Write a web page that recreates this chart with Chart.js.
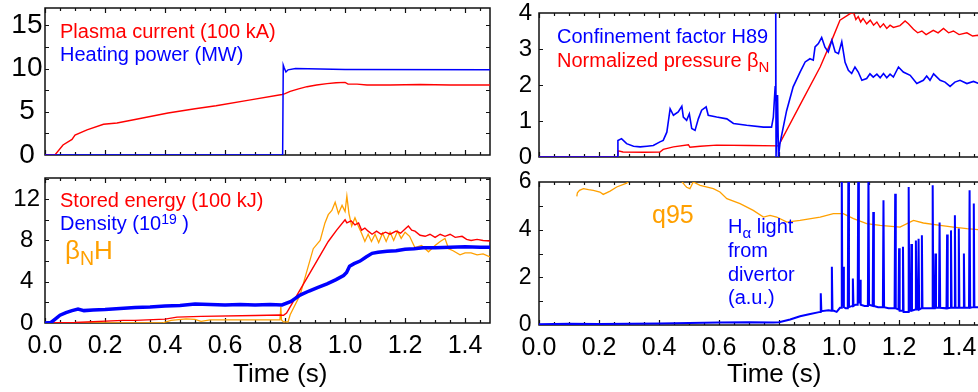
<!DOCTYPE html>
<html>
<head>
<meta charset="utf-8">
<script src="https://cdn.jsdelivr.net/npm/chart.js@4.4.1/dist/chart.umd.min.js"></script>
<style>
  html, body { margin: 0; padding: 0; background: #fff; width: 978px; height: 392px; overflow: hidden; }
  body { position: relative; font-family: "Liberation Sans", Arial, Helvetica, sans-serif; }
  canvas { position: absolute; }
  .note { position: absolute; white-space: nowrap; font-size: 20px; line-height: 20px; }
  .big { font-size: 26px; line-height: 26px; }
  .sub { font-size: 0.75em; position: relative; top: 0.3em; }
  .sup { font-size: 0.7em; position: relative; top: -0.45em; }
  .axis-title { position: absolute; white-space: nowrap; font-size: 26px; line-height: 26px; color: #000; }
</style>
</head>
<body>
<canvas id="tl" width="500" height="165" style="left:0;top:0"></canvas>
<canvas id="bl" width="500" height="227" style="left:0;top:165px"></canvas>
<canvas id="tr" width="505" height="165" style="left:495px;top:0"></canvas>
<canvas id="br" width="505" height="227" style="left:495px;top:165px"></canvas>

<div class="note" style="left:60px;top:21px;color:#f00">Plasma current (100 kA)</div>
<div class="note" style="left:60px;top:44px;color:#00f">Heating power (MW)</div>
<div class="note" style="left:60px;top:190px;color:#f00">Stored energy (100 kJ)</div>
<div class="note" style="left:60px;top:213px;color:#00f">Density (10<span class="sup">19</span> )</div>
<div class="note big" style="left:65px;top:237px;color:#ffa000">β<span class="sub">N</span>H</div>
<div class="note" style="left:557px;top:26px;color:#00f">Confinement factor H89</div>
<div class="note" style="left:557px;top:50px;color:#f00">Normalized pressure β<span class="sub">N</span></div>
<div class="note" style="left:652px;top:202px;color:#ffa000;font-size:25px;line-height:25px">q95</div>
<div class="note" style="left:728px;top:215px;color:#00f;line-height:23.3px">H<span class="sub">α</span> light<br>from<br>divertor<br>(a.u.)</div>
<div class="axis-title" style="left:233px;top:360px">Time (s)</div>
<div class="axis-title" style="left:727px;top:360px">Time (s)</div>

<script>
// x axis (s)
const xTicks = [0, 0.2, 0.4, 0.6, 0.8, 1.0, 1.2, 1.4];

// top left: plasma current (100 kA), heating power (MW)
const ipTime = [0, 0.033, 0.06, 0.09, 0.10, 0.14, 0.195, 0.24, 0.30, 0.41, 0.50, 0.57, 0.68, 0.79, 0.80, 0.817, 0.845, 0.873, 0.905, 0.94, 0.97, 1.0, 1.01, 1.04, 1.073, 1.15, 1.25, 1.35, 1.483];
const ipValue = [0, 0, 1.16, 1.8, 2.3, 2.9, 3.55, 3.7, 4.1, 4.85, 5.35, 5.7, 6.35, 7.0, 7.1, 7.35, 7.65, 7.9, 8.1, 8.25, 8.35, 8.4, 8.2, 8.2, 8.1, 8.1, 8.15, 8.1, 8.1];
const powTime = [0, 0.792, 0.794, 0.797, 0.803, 0.81, 0.835, 1.0, 1.483];
const powValue = [0, 0, 10.4, 10.1, 9.6, 9.85, 10.0, 9.9, 9.85];

// bottom left: stored energy (100 kJ), density (1e19), betaN*H
const weTime = [0, 0.1, 0.26, 0.30, 0.40, 0.44, 0.52, 0.70, 0.785, 0.795, 0.805, 0.85, 0.90, 0.944, 0.972, 1.0, 1.006, 1.02, 1.033, 1.045, 1.055, 1.066, 1.077, 1.09, 1.105, 1.12, 1.135, 1.15, 1.17, 1.185, 1.2, 1.211, 1.222, 1.233, 1.25, 1.267, 1.283, 1.3, 1.317, 1.333, 1.35, 1.367, 1.39, 1.405, 1.42, 1.44, 1.46, 1.483];
const weValue = [0, 0.05, 0.25, 0.25, 0.38, 0.57, 0.64, 0.72, 0.77, 0.74, 0.97, 3.2, 5.7, 7.9, 9.0, 10.0, 9.7, 9.9, 9.5, 9.7, 9.0, 9.2, 8.9, 8.6, 8.9, 8.6, 8.8, 8.6, 8.9, 8.7, 9.1, 9.4, 9.0, 8.9, 8.5, 8.4, 8.6, 8.3, 8.6, 8.4, 8.6, 8.3, 8.4, 8.1, 8.0, 8.1, 8.0, 7.95];
const denTime = [0, 0.02, 0.035, 0.05, 0.07, 0.09, 0.11, 0.13, 0.16, 0.2, 0.25, 0.3, 0.35, 0.4, 0.45, 0.5, 0.55, 0.6, 0.65, 0.7, 0.75, 0.79, 0.82, 0.85, 0.88, 0.91, 0.94, 0.97, 0.995, 1.005, 1.015, 1.03, 1.05, 1.07, 1.09, 1.11, 1.14, 1.17, 1.2, 1.23, 1.26, 1.3, 1.35, 1.4, 1.45, 1.483];
const denValue = [0, 0.05, 0.4, 0.75, 1.0, 1.2, 1.35, 1.2, 1.25, 1.3, 1.4, 1.5, 1.55, 1.65, 1.7, 1.85, 1.8, 1.75, 1.8, 1.75, 1.8, 1.75, 2.1, 2.7, 3.1, 3.45, 3.8, 4.2, 4.6, 4.9, 5.5, 5.75, 6.0, 6.4, 6.75, 6.85, 6.95, 7.0, 7.15, 7.2, 7.3, 7.3, 7.35, 7.4, 7.35, 7.35];
const bnhTime = [0, 0.39, 0.42, 0.47, 0.50, 0.52, 0.55, 0.60, 0.70, 0.783, 0.786, 0.788, 0.795, 0.81, 0.817, 0.85, 0.894, 0.917, 0.933, 0.944, 0.956, 0.967, 0.978, 0.99, 1.0, 1.006, 1.013, 1.022, 1.033, 1.044, 1.055, 1.066, 1.077, 1.088, 1.1, 1.112, 1.125, 1.137, 1.15, 1.162, 1.175, 1.187, 1.2, 1.215, 1.233, 1.255, 1.278, 1.3, 1.317, 1.333, 1.345, 1.36, 1.383, 1.4, 1.42, 1.44, 1.46, 1.483];
const bnhValue = [0, 0, 0.25, 0.4, 0.35, 0.15, 0.3, 0.3, 0.3, 0.3, 1.6, 0.3, 0.1, 0.1, 0.8, 2.7, 7.2, 8.0, 9.7, 10.5, 10.9, 11.7, 10.6, 11.4, 10.8, 12.3, 10.6, 9.4, 10.2, 9.4, 8.7, 7.9, 8.6, 7.9, 8.6, 7.8, 8.7, 7.9, 8.8, 8.0, 8.9, 8.2, 8.8, 8.4, 7.3, 7.5, 6.9, 7.5, 7.9, 8.2, 7.2, 7.0, 6.6, 6.8, 6.8, 6.6, 6.7, 6.4];

// top right: confinement factor H89, normalized pressure betaN
const h89Time = [0, 0.261, 0.263, 0.275, 0.292, 0.315, 0.337, 0.36, 0.381, 0.403, 0.414, 0.426, 0.437, 0.448, 0.464, 0.476, 0.481, 0.492, 0.501, 0.509, 0.52, 0.531, 0.542, 0.557, 0.564, 0.592, 0.626, 0.648, 0.692, 0.748, 0.775, 0.781, 0.787, 0.789, 0.79, 0.792, 0.795, 0.798, 0.803, 0.825, 0.847, 0.87, 0.887, 0.903, 0.914, 0.92, 0.931, 0.942, 0.953, 0.964, 0.976, 0.987, 0.998, 1.009, 1.02, 1.031, 1.042, 1.053, 1.064, 1.076, 1.092, 1.103, 1.114, 1.126, 1.137, 1.148, 1.159, 1.17, 1.181, 1.198, 1.214, 1.237, 1.259, 1.281, 1.292, 1.303, 1.315, 1.337, 1.353, 1.37, 1.386, 1.403, 1.426, 1.448, 1.465, 1.483];
const h89Value = [0, 0, 0.46, 0.51, 0.37, 0.3, 0.28, 0.3, 0.32, 0.42, 0.46, 0.69, 1.34, 1.16, 1.25, 1.41, 1.11, 1.02, 1.2, 0.79, 0.74, 1.06, 1.3, 1.39, 1.16, 1.11, 1.06, 0.93, 0.88, 0.83, 0.83, 1.11, 1.95, 4.2, 0, 0, 1.72, 0, 0.37, 1.28, 1.95, 2.36, 2.64, 2.73, 2.69, 3.06, 3.15, 3.32, 3.05, 2.92, 3.24, 2.92, 2.87, 3.2, 2.63, 2.41, 2.32, 2.5, 2.36, 2.13, 2.18, 2.31, 2.22, 2.3, 2.2, 2.32, 2.2, 2.3, 2.22, 2.5, 2.36, 2.27, 2.04, 2.13, 2.25, 2.13, 2.31, 2.13, 2.08, 1.96, 2.08, 2.13, 2.04, 2.1, 2.04, 2.05];
const betaTime = [0, 0.262, 0.264, 0.28, 0.35, 0.403, 0.414, 0.448, 0.498, 0.503, 0.537, 0.592, 0.70, 0.798, 0.87, 0.937, 0.981, 1.003, 1.037, 1.048, 1.056, 1.064, 1.072, 1.08, 1.092, 1.104, 1.115, 1.126, 1.137, 1.148, 1.159, 1.17, 1.181, 1.203, 1.22, 1.231, 1.248, 1.262, 1.276, 1.29, 1.314, 1.33, 1.348, 1.365, 1.381, 1.4, 1.426, 1.445, 1.463, 1.483];
const betaValue = [0, 0, 0.17, 0.14, 0.13, 0.14, 0.21, 0.28, 0.34, 0.27, 0.3, 0.33, 0.32, 0.31, 1.45, 2.5, 3.35, 3.8, 3.98, 4.02, 3.82, 3.9, 3.75, 3.85, 3.7, 3.8, 3.66, 3.75, 3.6, 3.7, 3.57, 3.66, 3.6, 3.65, 3.78, 3.7, 3.55, 3.45, 3.5, 3.4, 3.52, 3.45, 3.57, 3.45, 3.5, 3.4, 3.45, 3.36, 3.38, 3.35];

// bottom right: q95, H-alpha light from divertor (a.u.)
const q95Time = [0.126, 0.128, 0.135, 0.148, 0.165, 0.181, 0.203, 0.214, 0.237, 0.259, 0.292, 0.298, 0.32, 0.40, 0.46, 0.476, 0.487, 0.492, 0.503, 0.514, 0.537, 0.581, 0.603, 0.626, 0.67, 0.714, 0.748, 0.77, 0.792, 0.826, 0.87, 0.937, 0.981, 1.014, 1.048, 1.092, 1.137, 1.203, 1.248, 1.281, 1.337, 1.381, 1.426, 1.463, 1.483];
const q95Value = [5.4, 5.55, 5.65, 5.72, 5.68, 5.65, 5.58, 5.48, 5.62, 5.79, 5.95, 6.02, 6.2, 6.3, 6.2, 6.02, 5.85, 5.78, 5.72, 6.0, 5.86, 5.72, 5.58, 5.3, 5.09, 4.81, 4.53, 4.6, 4.53, 4.32, 4.39, 4.53, 4.67, 4.67, 4.46, 4.25, 4.18, 4.11, 4.39, 4.28, 4.18, 4.11, 4.04, 4.0, 3.98];
const haTime = [0, 0.1, 0.2, 0.3, 0.4, 0.5, 0.6, 0.7, 0.78, 0.8, 0.837, 0.87, 0.9, 0.937, 0.939, 0.941, 0.965, 0.974, 0.976, 0.978, 0.992, 1.003, 1.007, 1.009, 1.011, 1.014, 1.016, 1.022, 1.029, 1.031, 1.033, 1.044, 1.046, 1.048, 1.055, 1.062, 1.064, 1.066, 1.07, 1.072, 1.085, 1.096, 1.098, 1.1, 1.112, 1.114, 1.116, 1.13, 1.146, 1.148, 1.15, 1.165, 1.185, 1.187, 1.189, 1.198, 1.2, 1.202, 1.211, 1.213, 1.215, 1.23, 1.232, 1.234, 1.239, 1.241, 1.243, 1.254, 1.256, 1.258, 1.263, 1.265, 1.267, 1.274, 1.276, 1.278, 1.295, 1.31, 1.312, 1.314, 1.319, 1.321, 1.323, 1.333, 1.335, 1.337, 1.358, 1.36, 1.362, 1.371, 1.373, 1.375, 1.384, 1.386, 1.388, 1.397, 1.399, 1.401, 1.414, 1.416, 1.418, 1.433, 1.435, 1.437, 1.447, 1.449, 1.451, 1.468, 1.47, 1.472, 1.483];
const haValue = [0.03, 0.05, 0.04, 0.05, 0.06, 0.08, 0.1, 0.12, 0.1, 0.12, 0.23, 0.37, 0.45, 0.55, 1.33, 0.58, 0.62, 0.6, 2.44, 0.62, 0.55, 0.72, 0.72, 6.5, 0.8, 2.44, 0.75, 0.7, 0.7, 6.5, 0.75, 0.8, 1.95, 0.8, 0.85, 0.85, 6.5, 0.9, 1.9, 0.85, 0.8, 0.8, 6.5, 0.85, 0.8, 4.74, 0.8, 0.75, 0.75, 5.23, 0.75, 0.7, 0.7, 5.51, 0.7, 0.65, 3.22, 0.6, 0.6, 3.28, 0.55, 0.55, 5.79, 0.6, 0.6, 3.4, 0.6, 0.65, 3.55, 0.65, 0.65, 3.62, 0.65, 0.7, 3.77, 0.7, 0.7, 0.7, 5.86, 0.7, 0.7, 3.0, 0.72, 0.72, 4.3, 0.72, 0.7, 3.8, 0.7, 0.72, 3.97, 0.72, 0.72, 4.6, 0.72, 0.72, 4.05, 0.72, 0.72, 3.0, 0.72, 0.72, 5.65, 0.72, 0.75, 5.1, 0.75, 0.75, 4.0, 0.75, 0.75];

const FONT = "'Liberation Sans', Arial, Helvetica, sans-serif";
const RED = '#ff0000', BLUE = '#0000ff', ORANGE = '#ffa000';

function pairs(t, v) {
    return t.map((x, i) => ({ x: x, y: v[i] }));
}

// box round the plot and inward ticks on all four sides
const framePlugin = {
    id: 'frame',
    beforeDatasetsDraw(chart, args, opts) {
        const { ctx, chartArea: a, scales: { x, y } } = chart;
        ctx.save();
        ctx.strokeStyle = '#111';
        ctx.lineWidth = 1.5;
        ctx.strokeRect(a.left, a.top, a.right - a.left, a.bottom - a.top);
        ctx.lineWidth = 1.2;
        ctx.beginPath();
        for (let i = 0; i * 0.05 <= x.max; i++) {
            const px = Math.round(x.getPixelForValue(i * 0.05)) + 0.5;
            const len = i % 4 === 0 ? 5 : 3;
            ctx.moveTo(px, a.bottom); ctx.lineTo(px, a.bottom - len);
            ctx.moveTo(px, a.top); ctx.lineTo(px, a.top + len);
        }
        for (let v = opts.yStep; v < y.max; v += opts.yStep) {
            const py = Math.round(y.getPixelForValue(v)) + 0.5;
            ctx.moveTo(a.left, py); ctx.lineTo(a.left + 4, py);
            ctx.moveTo(a.right, py); ctx.lineTo(a.right - 4, py);
        }
        ctx.stroke();
        ctx.restore();
    }
};

function makePanel(id, p) {
    new Chart(document.getElementById(id), {
        type: 'line',
        data: {
            datasets: p.series.map(s => ({
                data: pairs(s.t, s.v),
                borderColor: s.color,
                borderWidth: s.width,
                pointRadius: 0,
                tension: 0,
                fill: false
            }))
        },
        options: {
            responsive: false,
            animation: false,
            events: [],
            layout: { padding: p.padding },
            plugins: {
                legend: { display: false },
                tooltip: { enabled: false },
                frame: { yStep: p.yStep }
            },
            scales: {
                x: {
                    type: 'linear',
                    min: 0,
                    max: 1.483,
                    grid: { display: false, drawTicks: false },
                    border: { display: false },
                    ticks: {
                        display: p.xLabels,
                        color: '#000',
                        font: { family: FONT, size: 25 },
                        padding: 8,
                        maxRotation: 0,
                        autoSkip: false,
                        callback: v => v.toFixed(1)
                    },
                    afterBuildTicks: s => { s.ticks = xTicks.map(v => ({ value: v })); },
                    afterFit: s => { s.height = p.xHeight; s.paddingLeft = 0; s.paddingRight = 0; }
                },
                y: {
                    min: 0,
                    max: p.yMax,
                    grid: { display: false, drawTicks: false },
                    border: { display: false },
                    ticks: {
                        color: '#000',
                        font: { family: FONT, size: p.yFont, lineHeight: 1 },
                        padding: p.yPad,
                        crossAlign: 'center',
                        autoSkip: false,
                        callback: v => String(v)
                    },
                    afterBuildTicks: s => { s.ticks = p.yTicks.map(v => ({ value: v })); },
                    afterFit: s => { s.width = p.yWidth; s.paddingTop = 0; s.paddingBottom = 0; }
                }
            }
        },
        plugins: [framePlugin]
    });
}

makePanel('tl', {
    padding: { left: 0, top: 8, right: 10, bottom: 0 },
    yWidth: 45, xHeight: 10, xLabels: false,
    yMax: 17, yTicks: [0, 5, 10, 15], yStep: 2.5, yFont: 28, yPad: 2.5,
    series: [
        { t: powTime, v: powValue, color: BLUE, width: 1.5 },
        { t: ipTime, v: ipValue, color: RED, width: 1.4 }
    ]
});

makePanel('bl', {
    padding: { left: 0, top: 13, right: 10, bottom: 0 },
    yWidth: 45, xHeight: 69, xLabels: true,
    yMax: 14.05, yTicks: [0, 4, 8, 12], yStep: 2, yFont: 24, yPad: 5,
    series: [
        { t: denTime, v: denValue, color: BLUE, width: 3.5 },
        { t: weTime, v: weValue, color: RED, width: 1.4 },
        { t: bnhTime, v: bnhValue, color: ORANGE, width: 1.3 }
    ]
});

makePanel('tr', {
    padding: { left: 0, top: 13, right: 16, bottom: 0 },
    yWidth: 44, xHeight: 8, xLabels: false,
    yMax: 4, yTicks: [0, 1, 2, 3, 4], yStep: 1, yFont: 24, yPad: 7,
    series: [
        { t: h89Time, v: h89Value, color: BLUE, width: 1.6 },
        { t: betaTime, v: betaValue, color: RED, width: 1.4 }
    ]
});

makePanel('br', {
    padding: { left: 0, top: 17, right: 16, bottom: 0 },
    yWidth: 44, xHeight: 67, xLabels: true,
    yMax: 6, yTicks: [0, 2, 4, 6], yStep: 1, yFont: 23, yPad: 7.5,
    series: [
        { t: haTime, v: haValue, color: BLUE, width: 2 },
        { t: q95Time, v: q95Value, color: ORANGE, width: 1.3 }
    ]
});
</script>
</body>
</html>
